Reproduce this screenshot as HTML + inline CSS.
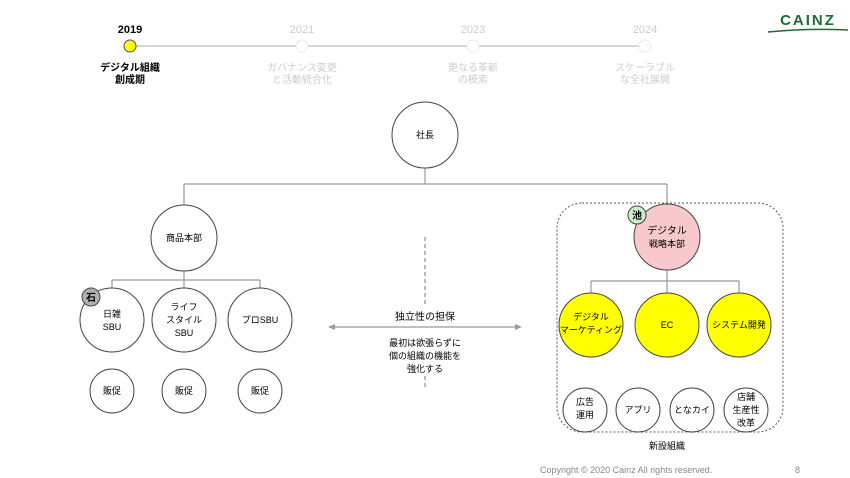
<!DOCTYPE html>
<html><head><meta charset="utf-8"><style>
html,body{margin:0;padding:0;background:#fff;}
svg{display:block;font-family:"Liberation Sans","Noto Sans CJK JP",sans-serif;}
</style></head><body>
<svg width="850" height="478" viewBox="0 0 850 478" xmlns="http://www.w3.org/2000/svg">
<text x="808" y="25" font-size="15" font-weight="bold" fill="#1f6b33" text-anchor="middle" letter-spacing="2">CAINZ</text>
<path d="M768 32 Q808 28 848 30" stroke="#1f6b33" stroke-width="1.5" fill="none"/>
<line x1="130" y1="46" x2="645" y2="46" stroke="#c8c8c8" stroke-width="1.5"/>
<circle cx="130" cy="46" r="6" fill="#ffff00" stroke="#555" stroke-width="1"/>
<circle cx="302" cy="46" r="6" fill="#fff" stroke="#e8e8e8"/>
<circle cx="473" cy="46" r="6" fill="#fff" stroke="#e8e8e8"/>
<circle cx="645" cy="46" r="6" fill="#fff" stroke="#e8e8e8"/>
<g font-size="11" text-anchor="middle">
<text x="130" y="33" font-weight="bold" fill="#000">2019</text>
<text x="302" y="33" fill="#ccc">2021</text>
<text x="473" y="33" fill="#ccc">2023</text>
<text x="645" y="33" fill="#ccc">2024</text>
</g>
<g font-size="10" text-anchor="middle">
<text x="130" y="71" font-weight="bold">デジタル組織</text>
<text x="130" y="83" font-weight="bold">創成期</text>
<text x="302" y="71" fill="#ccc">ガバナンス変更</text>
<text x="302" y="83" fill="#ccc">と活動統合化</text>
<text x="473" y="71" fill="#ccc">更なる革新</text>
<text x="473" y="83" fill="#ccc">の模索</text>
<text x="645" y="71" fill="#ccc">スケーラブル</text>
<text x="645" y="83" fill="#ccc">な全社展開</text>
</g>
<g stroke="#999" stroke-width="1.2" fill="none">
<path d="M425 168V184M184 184H667M184 184V205M667 184V204"/>
<path d="M184 271V280M112 280H260M112 280V288M260 280V288M184 280V288"/>
<path d="M667 270V281M591 281H739M591 281V293M739 281V293M667 281V293"/>
</g>
<rect x="557" y="203" width="226" height="229" rx="25" fill="none" stroke="#555" stroke-dasharray="2,2"/>
<line x1="425" y1="237" x2="425" y2="305" stroke="#777" stroke-dasharray="4,3"/>
<line x1="425" y1="376" x2="425" y2="387" stroke="#777" stroke-dasharray="4,3"/>
<line x1="333" y1="327" x2="517" y2="327" stroke="#999" stroke-width="1.2"/>
<path d="M328 327l7-3v6z M522 327l-7-3v6z" fill="#999"/>
<g stroke="#444" stroke-width="1">
<circle cx="425" cy="135" r="33" fill="#fff"/>
<circle cx="184" cy="238" r="33" fill="#fff"/>
<circle cx="667" cy="237" r="33" fill="#f8c8cc"/>
<circle cx="112" cy="320" r="32" fill="#fff"/>
<circle cx="184" cy="320" r="32" fill="#fff"/>
<circle cx="260" cy="320" r="32" fill="#fff"/>
<circle cx="112" cy="391" r="22" fill="#fff"/>
<circle cx="184" cy="391" r="22" fill="#fff"/>
<circle cx="260" cy="391" r="22" fill="#fff"/>
<circle cx="591" cy="325" r="32" fill="#ffff00"/>
<circle cx="667" cy="325" r="32" fill="#ffff00"/>
<circle cx="739" cy="325" r="32" fill="#ffff00"/>
<circle cx="585" cy="410" r="22" fill="#fff"/>
<circle cx="638" cy="410" r="22" fill="#fff"/>
<circle cx="692" cy="410" r="22" fill="#fff"/>
<circle cx="746" cy="410" r="22" fill="#fff"/>
<circle cx="91" cy="297" r="9" fill="#b0b0b0"/>
<circle cx="637" cy="215" r="9" fill="#c8f0c8"/>
</g>
<g font-size="9" text-anchor="middle" fill="#000">
<text x="425" y="138">社長</text>
<text x="184" y="241">商品本部</text>
<text x="667" y="234" font-size="10">デジタル</text>
<text x="667" y="247">戦略本部</text>
<text x="112" y="317">日雑</text>
<text x="112" y="330">SBU</text>
<text x="184" y="310">ライフ</text>
<text x="184" y="323">スタイル</text>
<text x="184" y="336">SBU</text>
<text x="260" y="323">プロSBU</text>
<text x="112" y="394">販促</text>
<text x="184" y="394">販促</text>
<text x="260" y="394">販促</text>
<text x="591" y="320">デジタル</text>
<text x="591" y="333">マーケティング</text>
<text x="667" y="328">EC</text>
<text x="739" y="328">システム開発</text>
<text x="585" y="405">広告</text>
<text x="585" y="418">運用</text>
<text x="638" y="413">アプリ</text>
<text x="692" y="413">となカイ</text>
<text x="746" y="400">店舗</text>
<text x="746" y="413">生産性</text>
<text x="746" y="426">改革</text>
<text x="91" y="301" font-weight="bold" font-size="10">石</text>
<text x="637" y="219" font-weight="bold" font-size="10">池</text>
<text x="425" y="320" font-size="10">独立性の担保</text>
<text x="425" y="346">最初は欲張らずに</text>
<text x="425" y="359">個の組織の機能を</text>
<text x="425" y="372">強化する</text>
<text x="667" y="449">新設組織</text>
</g>
<text x="540" y="473" font-size="9" fill="#888">Copyright © 2020 Cainz  All rights reserved.</text>
<text x="795" y="473" font-size="9" fill="#888">8</text>
</svg>
</body></html>
